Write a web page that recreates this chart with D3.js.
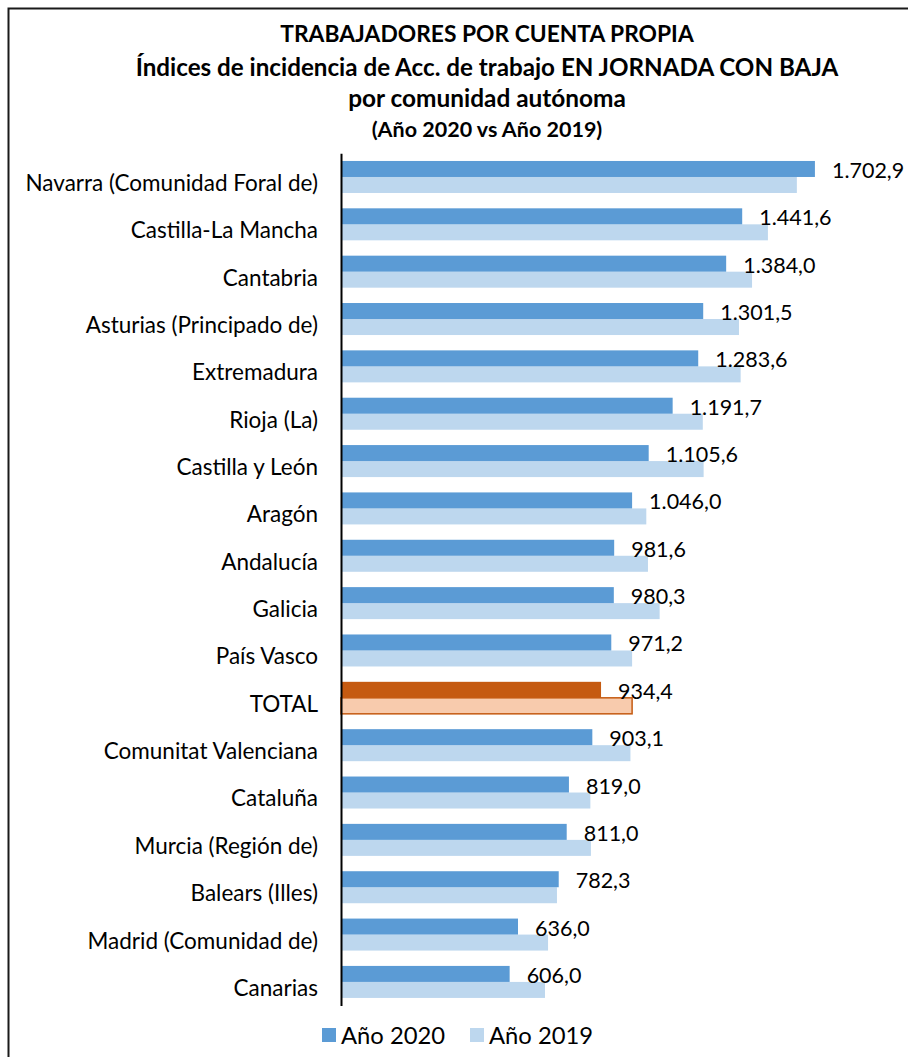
<!DOCTYPE html>
<html>
<head>
<meta charset="utf-8">
<script src="https://cdn.jsdelivr.net/npm/d3@7"></script>
<style>
  html, body { margin: 0; padding: 0; background: #fff; }
  svg { display: block; }
  text { font-family: Lato, "Open Sans", sans-serif; fill: #000; }
</style>
</head>
<body>
<svg id="chart" width="908" height="1057"></svg>
<script>
// Regions, top to bottom
const categories = [
  "Navarra (Comunidad Foral de)", "Castilla-La Mancha", "Cantabria",
  "Asturias (Principado de)", "Extremadura", "Rioja (La)", "Castilla y León",
  "Aragón", "Andalucía", "Galicia", "País Vasco", "TOTAL",
  "Comunitat Valenciana", "Cataluña", "Murcia (Región de)", "Balears (Illes)",
  "Madrid (Comunidad de)", "Canarias"
];
// Incidence index, year 2020 (labelled)
const values2020 = [1702.9, 1441.6, 1384.0, 1301.5, 1283.6, 1191.7, 1105.6,
  1046.0, 981.6, 980.3, 971.2, 934.4, 903.1, 819.0, 811.0, 782.3, 636.0, 606.0];
// Incidence index, year 2019
const values2019 = [1638, 1534, 1477, 1430, 1436, 1300, 1303,
  1097, 1103, 1145, 1046, 1046, 1040, 896, 898, 776, 744, 733];
const seriesNames = ["Año 2020", "Año 2019"];
const titleLines = [
  "TRABAJADORES POR CUENTA PROPIA",
  "Índices de incidencia de Acc. de trabajo EN JORNADA CON BAJA",
  "por comunidad autónoma",
  "(Año 2020 vs Año 2019)"
];

const svg = d3.select("#chart");
const fmt = v => {
  const s = v.toFixed(1).replace(".", ",");
  const [i, d] = s.split(",");
  return i.replace(/\B(?=(\d{3})+(?!\d))/g, ".") + "," + d;
};

const colors = { c2020: "#5B9BD5", c2019: "#BDD7EE", t2020: "#C55A11", t2019: "#F8CBAD" };

// Frame
svg.append("path")
  .attr("d", "M908,8.5 H8.5 V1057")
  .attr("fill", "none").attr("stroke", "#1a1a1a").attr("stroke-width", 2);

// Title
const titleY = [42, 76, 107, 137];
const titleSize = [22.8, 24.2, 24.4, 21.5];
svg.selectAll("text.title").data(titleLines).join("text")
  .attr("class", "title")
  .attr("x", 487).attr("y", (d, i) => titleY[i])
  .attr("text-anchor", "middle")
  .attr("font-weight", "bold")
  .attr("font-size", (d, i) => titleSize[i])
  .text(d => d);

// Scales
const x = d3.scaleLinear().domain([0, 2000]).range([341, 897.6]);
const y = d3.scaleBand().domain(categories).range([153.3, 1005.6]).paddingInner(0.324).paddingOuter(0.162);
const sub = d3.scaleBand().domain(seriesNames).range([0, y.bandwidth()]);

const rows = categories.map((c, i) => ({ c, v20: values2020[i], v19: values2019[i], total: c === "TOTAL" }));

const g = svg.append("g");
// 2019 bars
g.selectAll("rect.b19").data(rows).join("rect")
  .attr("class", "b19")
  .attr("x", x(0)).attr("y", d => y(d.c) + sub("Año 2019"))
  .attr("width", d => x(d.v19) - x(0)).attr("height", sub.bandwidth())
  .attr("fill", d => d.total ? colors.t2019 : colors.c2019)
  .attr("stroke", d => d.total ? colors.t2020 : "none")
  .attr("stroke-width", 1.5);
// 2020 bars
g.selectAll("rect.b20").data(rows).join("rect")
  .attr("class", "b20")
  .attr("x", x(0)).attr("y", d => y(d.c) + sub("Año 2020"))
  .attr("width", d => x(d.v20) - x(0)).attr("height", sub.bandwidth())
  .attr("fill", d => d.total ? colors.t2020 : colors.c2020);

// Value labels for 2020
g.selectAll("text.val").data(rows).join("text")
  .attr("class", "val")
  .attr("x", d => x(d.v20) + 17)
  .attr("y", d => y(d.c) + sub("Año 2020") + sub.bandwidth() / 2 + 9)
  .attr("font-size", 21.5)
  .text(d => fmt(d.v20));

// Category axis
const axis = d3.axisLeft(y).tickSize(0).tickPadding(23);
const ax = svg.append("g").attr("transform", `translate(${x(0)},0)`).call(axis);
ax.select(".domain").attr("stroke", "#000").attr("stroke-width", 2);
ax.selectAll(".tick text")
  .attr("font-family", "Lato, 'Open Sans', sans-serif")
  .attr("font-size", 22.5)
  .attr("fill", "#000")
  .attr("dy", "0.62em");

// Legend
const legend = svg.append("g");
const legendItems = [
  { name: seriesNames[0], color: colors.c2020, x: 322 },
  { name: seriesNames[1], color: colors.c2019, x: 470 }
];
legendItems.forEach(it => {
  legend.append("rect").attr("x", it.x).attr("y", 1028).attr("width", 14).attr("height", 14).attr("fill", it.color);
  legend.append("text").attr("x", it.x + 19).attr("y", 1044).attr("font-size", 23.8).text(it.name);
});
</script>
</body>
</html>
